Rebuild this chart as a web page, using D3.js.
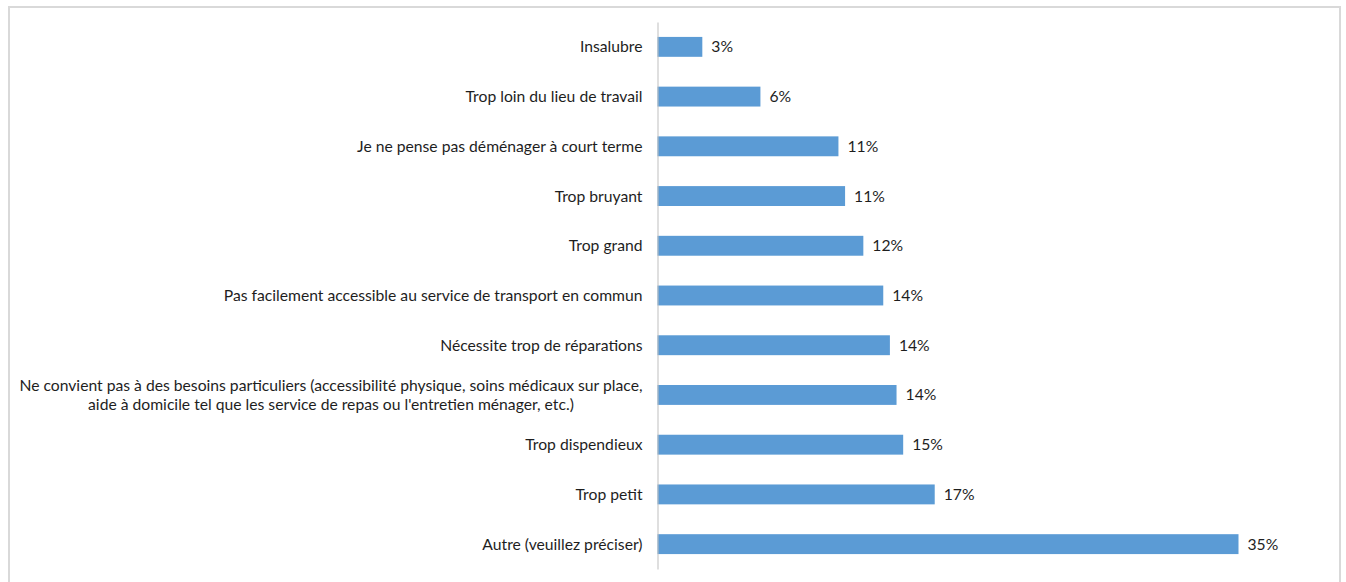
<!DOCTYPE html>
<html lang="fr">
<head>
<meta charset="utf-8">
<title>Raisons</title>
<script src="https://cdn.jsdelivr.net/npm/d3@7/dist/d3.min.js"></script>
<style>
  html, body { margin: 0; padding: 0; background: #ffffff; }
  svg { display: block; }
  text { font-family: Lato, "Liberation Sans", sans-serif; fill: #1e1e1e; }
</style>
</head>
<body>
<svg id="chart" width="1346" height="582"></svg>
<script>
// Catégories, du haut vers le bas
const categories = [
  "Insalubre",
  "Trop loin du lieu de travail",
  "Je ne pense pas déménager à court terme",
  "Trop bruyant",
  "Trop grand",
  "Pas facilement accessible au service de transport en commun",
  "Nécessite trop de réparations",
  "Ne convient pas à des besoins particuliers (accessibilité physique, soins médicaux sur place,\naide à domicile tel que les service de repas ou l'entretien ménager, etc.)",
  "Trop dispendieux",
  "Trop petit",
  "Autre (veuillez préciser)"
];

// Part des répondants (proportion)
const values = [0.027, 0.062, 0.109, 0.113, 0.124, 0.136, 0.140, 0.144, 0.148, 0.167, 0.350];

const svg = d3.select("#chart");

// Cadre du graphique
svg.append("rect")
  .attr("x", 9).attr("y", 7)
  .attr("width", 1331).attr("height", 590)
  .attr("fill", "none")
  .attr("stroke", "#d9d9d9")
  .attr("stroke-width", 2);

const x = d3.scaleLinear().domain([0, 0.4]).range([657.5, 1321.5]);
const y = d3.scaleBand()
  .domain(categories)
  .range([22, 569])
  .paddingInner(0.6)
  .paddingOuter(0.3);

const data = categories.map((c, i) => ({ cat: c, value: values[i] }));

// Barres
svg.append("g")
  .selectAll("rect")
  .data(data)
  .join("rect")
  .attr("x", x(0))
  .attr("y", d => y(d.cat))
  .attr("width", d => x(d.value) - x(0))
  .attr("height", y.bandwidth())
  .attr("fill", "#5b9bd5");

// Axe des catégories
const axis = svg.append("g")
  .attr("transform", `translate(${x(0)},0)`)
  .call(d3.axisLeft(y).tickSize(0).tickPadding(14).tickFormat(""));
axis.select(".domain").attr("stroke", "#bfbfbf").attr("stroke-width", 1);

const fs = 15.7;
const labelRight = x(0) - 15;

// Libellés des catégories : lignes centrées entre elles, bloc aligné à droite
const lbl = svg.append("g")
  .selectAll("text")
  .data(data)
  .join("text")
  .attr("y", d => y(d.cat) + y.bandwidth() / 2)
  .attr("text-anchor", "middle")
  .attr("font-size", fs);

lbl.each(function(d) {
  const lines = d.cat.split("\n");
  const t = d3.select(this);
  const lh = 1.17;
  const spans = lines.map((ln, i) =>
    t.append("tspan")
      .attr("dy", i === 0 ? `${0.35 - (lines.length - 1) * lh / 2}em` : `${lh}em`)
      .text(ln));
  const w = d3.max(spans, s => s.node().getComputedTextLength());
  spans.forEach(s => s.attr("x", labelRight - w / 2));
});

// Étiquettes de valeur
const fmt = d3.format(".0%");
svg.append("g")
  .selectAll("text")
  .data(data)
  .join("text")
  .attr("x", d => x(d.value) + 9)
  .attr("y", d => y(d.cat) + y.bandwidth() / 2)
  .attr("dy", "0.35em")
  .attr("font-size", fs)
  .text(d => fmt(d.value));
</script>
</body>
</html>
